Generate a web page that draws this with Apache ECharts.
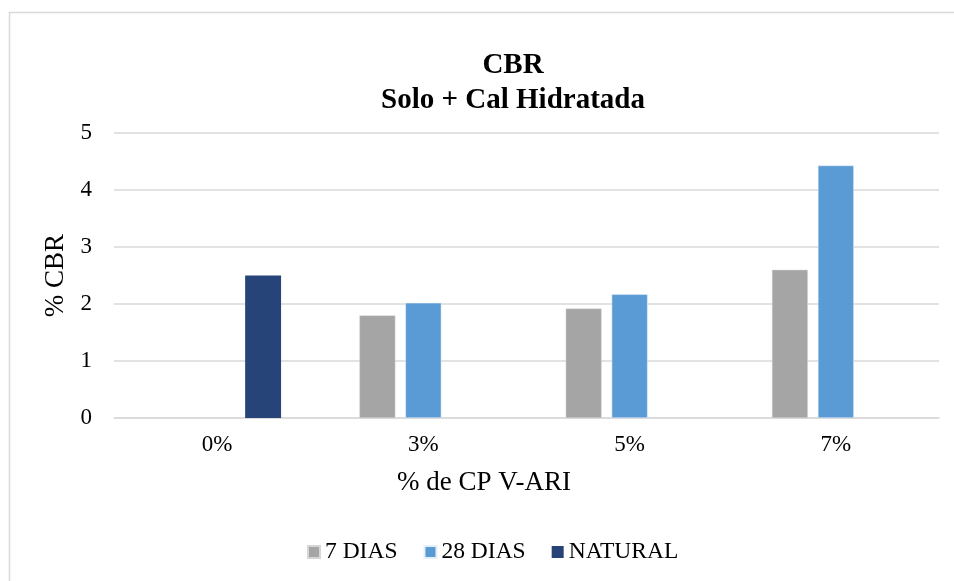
<!DOCTYPE html>
<html><head><meta charset="utf-8">
<script src="https://cdn.jsdelivr.net/npm/echarts@6/dist/echarts.min.js"></script>
<style>html,body{margin:0;padding:0;background:#fff}#c{width:954px;height:581px}</style>
</head><body><div id="c"></div>
<script>
var categories = ['0%', '3%', '5%', '7%'];
var dias7 = [null, 1.8, 1.92, 2.6];
var dias28 = [null, 2.02, 2.17, 4.43];
var natural = [2.5, null, null, null];
var yTicks = [0, 1, 2, 3, 4, 5];
var F = 'Liberation Serif, Times New Roman, serif';
var chart = echarts.init(document.getElementById('c'));
chart.setOption({
  animation: false,
  graphic: [{type: 'rect', shape: {x: 9.5, y: 12.5, width: 1000, height: 700}, style: {fill: 'none', stroke: '#d9d9d9', lineWidth: 1.5}, silent: true}],
  title: {
    text: 'CBR\nSolo + Cal Hidratada', left: 508, top: 43, textAlign: 'center',
    textStyle: {fontFamily: F, fontSize: 29, fontWeight: 'bold', color: '#000', lineHeight: 35, align: 'center'}
  },
  legend: {
    top: 535, left: 302, itemWidth: 12, itemHeight: 12, itemGap: 26,
    icon: 'rect',
    textStyle: {fontFamily: F, fontSize: 23.5, color: '#000'},
    data: ['7 DIAS', '28 DIAS', 'NATURAL']
  },
  grid: {left: 114, right: 15, top: 133, bottom: 163},
  xAxis: {
    type: 'category', data: categories,
    name: '% de CP V-ARI', nameLocation: 'middle', nameGap: 51,
    nameTextStyle: {fontFamily: F, fontSize: 27, color: '#000', padding: [0, 85, 0, 0]},
    axisLine: {show: true, lineStyle: {color: '#d9d9d9', width: 1.5}},
    axisTick: {show: false},
    axisLabel: {fontFamily: F, fontSize: 23, color: '#000', margin: 15}
  },
  yAxis: {
    type: 'value', min: 0, max: 5, interval: 1,
    name: '% CBR', nameLocation: 'middle', nameGap: 40,
    nameTextStyle: {fontFamily: F, fontSize: 27, color: '#000'},
    axisLine: {show: false}, axisTick: {show: false},
    splitLine: {lineStyle: {color: '#d9d9d9', width: 1.5}},
    axisLabel: {fontFamily: F, fontSize: 23, color: '#000', margin: 22,
      formatter: function (v) { return yTicks.indexOf(v) >= 0 ? String(v) : ''; }}
  },
  series: [
    {name: '7 DIAS', type: 'bar', data: dias7, barGap: '28%', barCategoryGap: '38%',
     itemStyle: {color: '#A5A5A5', borderColor: '#d6d6d6', borderWidth: 0.5}},
    {name: '28 DIAS', type: 'bar', data: dias28,
     itemStyle: {color: '#5B9BD5', borderColor: '#e6eef8', borderWidth: 0.5}},
    {name: 'NATURAL', type: 'bar', data: natural,
     itemStyle: {color: '#264478'}}
  ]
});
</script></body></html>
